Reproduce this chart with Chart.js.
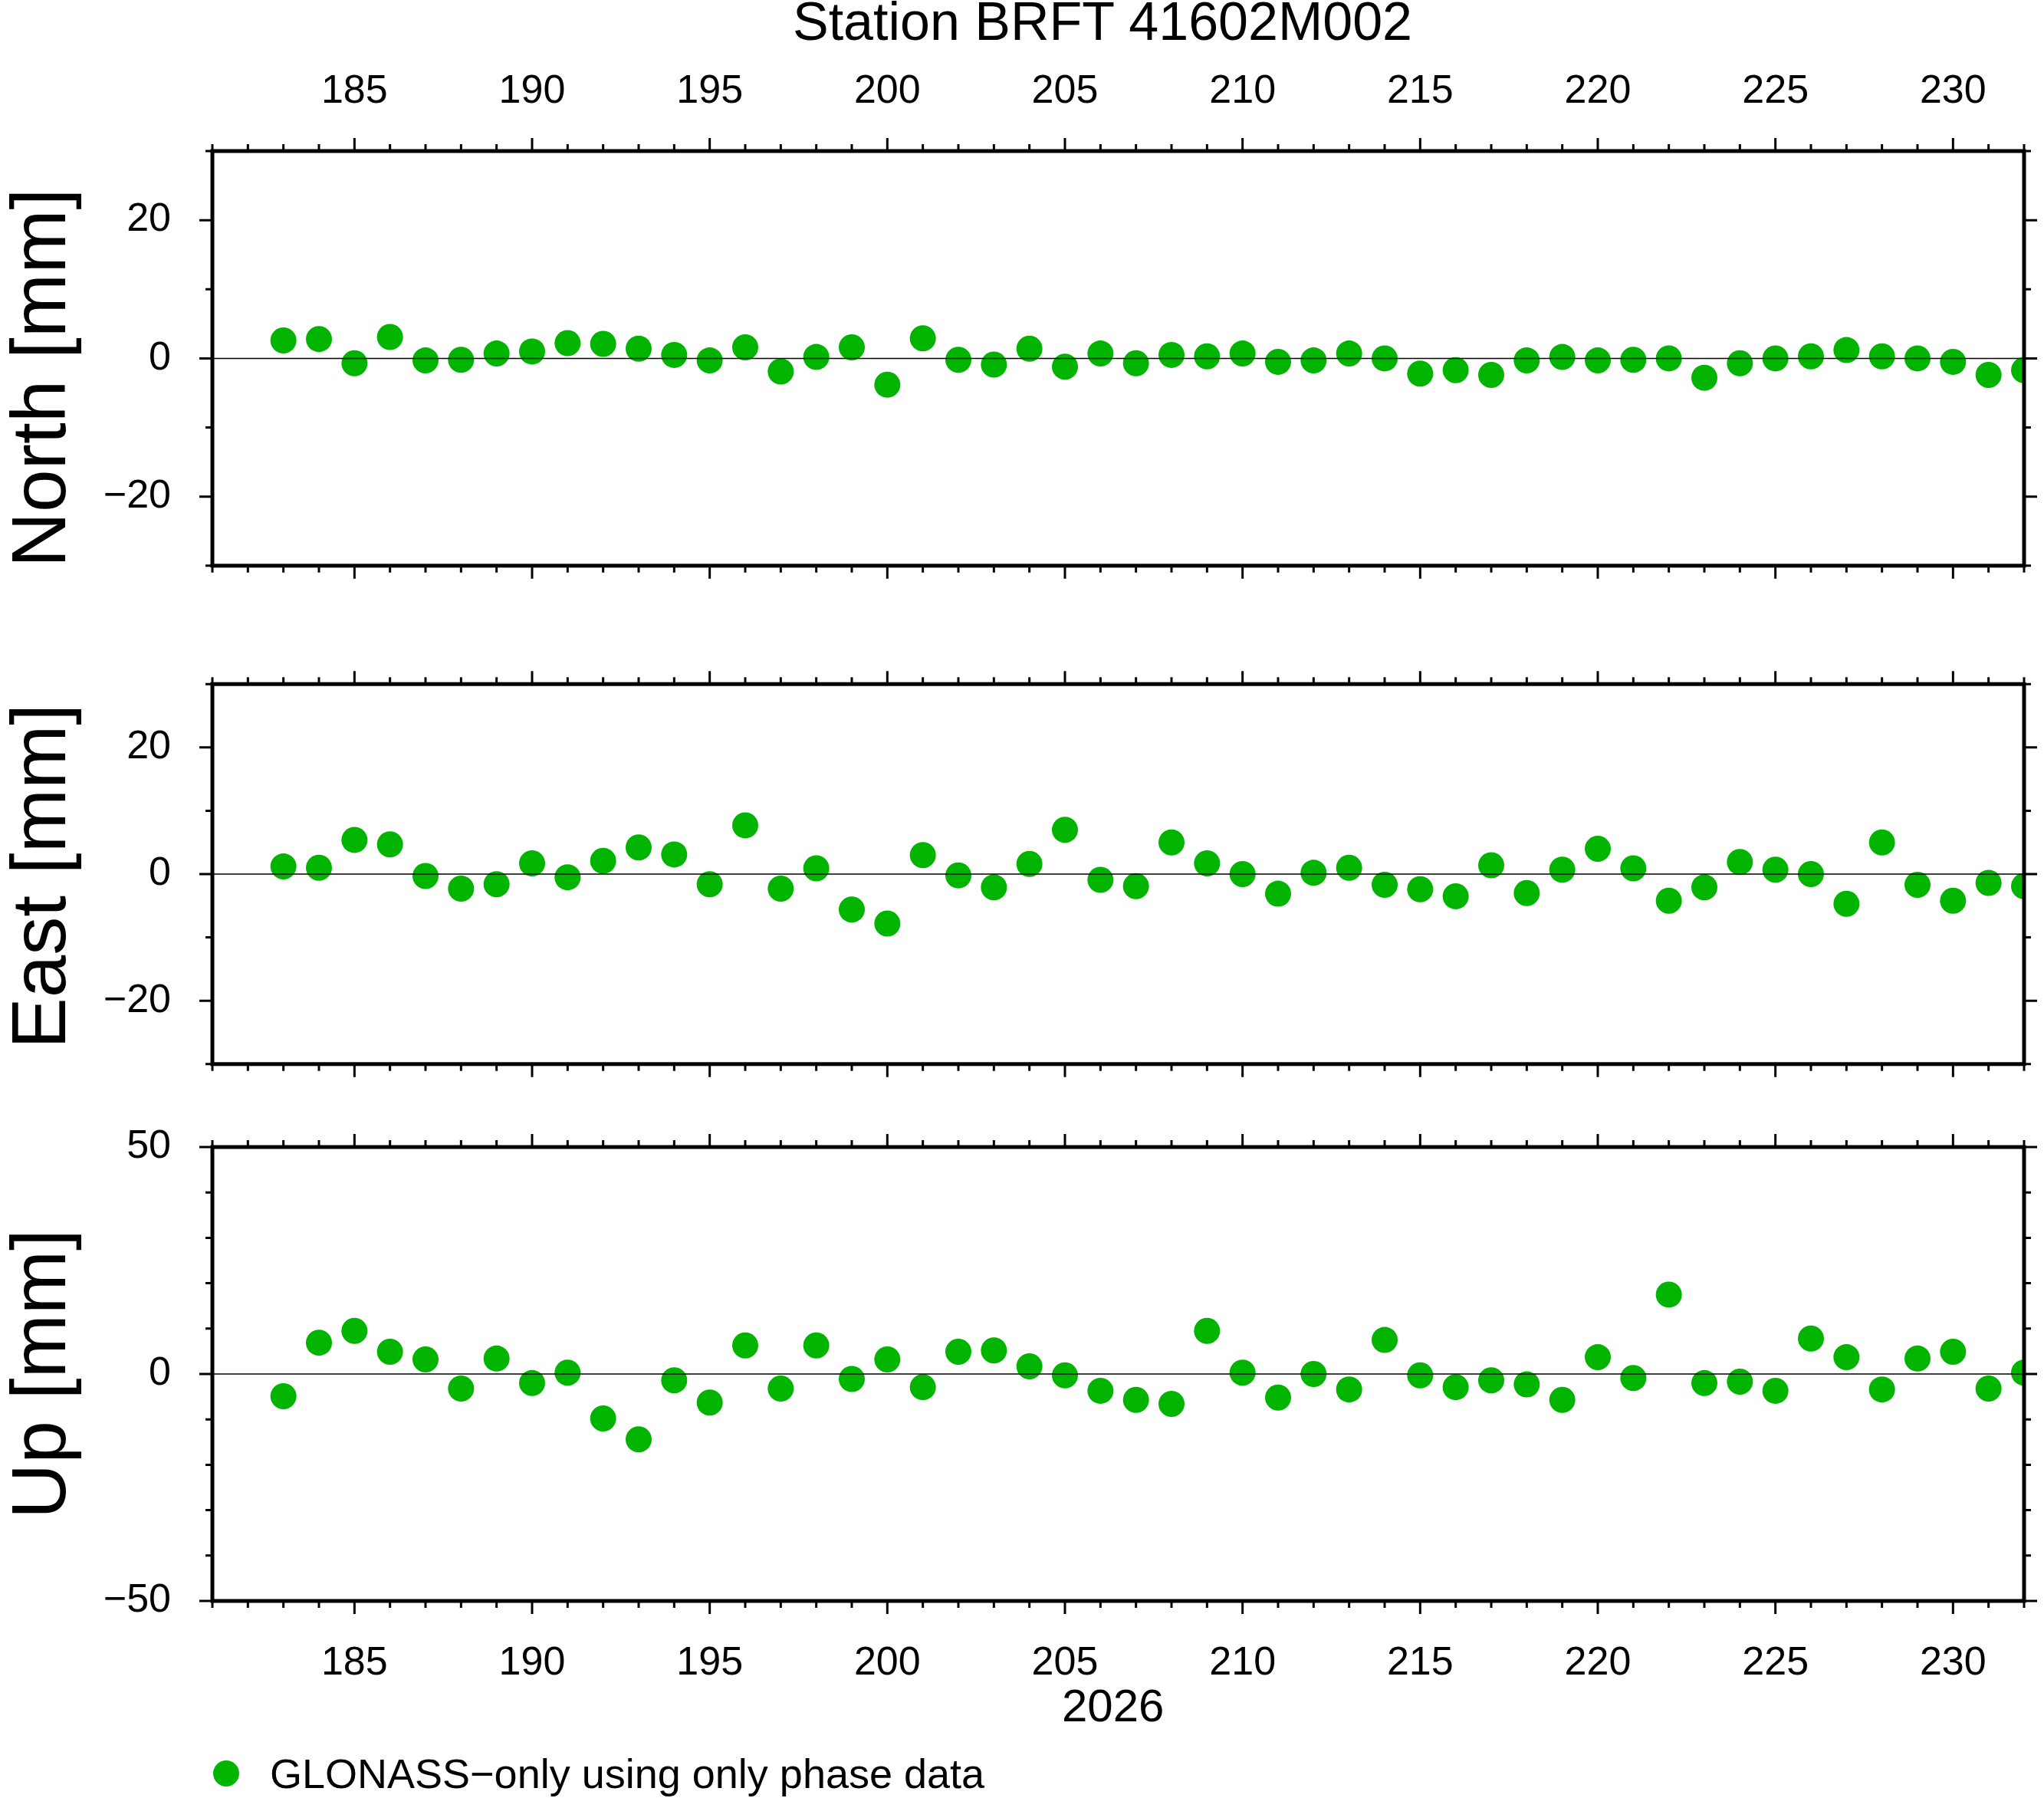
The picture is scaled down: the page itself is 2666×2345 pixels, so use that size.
<!DOCTYPE html>
<html><head><meta charset="utf-8">
<script src="https://cdn.jsdelivr.net/npm/chart.js@4"></script>
<style>
body{margin:0;background:#fff;width:2666px;height:2345px;position:relative;overflow:hidden;font-family:"Liberation Sans",Arial,sans-serif}
canvas{position:absolute;left:0}
.t{position:absolute;color:#000;white-space:nowrap}
.yl{position:absolute;font-size:100px;transform:translate(-50%,-50%) rotate(-90deg);left:50px}
</style></head><body>
<div class="t" style="left:0;width:2876px;text-align:center;top:-12px;font-size:70px">Station BRFT 41602M002</div>
<div class="t yl" style="top:493px">North [mm]</div>
<div class="t yl" style="top:1143px">East [mm]</div>
<div class="t yl" style="top:1792px">Up [mm]</div>
<div class="t" style="left:1385px;top:2190px;font-size:60px">2026</div>
<div class="t" style="left:278px;top:2296px;width:34px;height:34px;border-radius:50%;background:#00b400"></div>
<div class="t" style="left:352px;top:2282px;font-size:54px">GLONASS−only using only phase data</div>
<canvas id="cN"></canvas><canvas id="cE"></canvas><canvas id="cU"></canvas>
<script>
const days = [];
for (let d = 183; d <= 232; d++) days.push(d);
const north = [2.6,2.8,-0.7,3.1,-0.3,-0.2,0.7,1.0,2.2,2.1,1.4,0.5,-0.3,1.6,-1.9,0.2,1.6,-3.8,2.9,-0.2,-0.9,1.4,-1.2,0.7,-0.7,0.5,0.3,0.7,-0.5,-0.3,0.7,0,-2.2,-1.7,-2.4,-0.3,0.2,-0.3,-0.2,0,-2.8,-0.7,0,0.3,1.2,0.3,0,-0.5,-2.4,-1.7];
const east = [1.2,1.0,5.4,4.7,-0.3,-2.3,-1.6,1.7,-0.5,2.1,4.2,3.1,-1.6,7.7,-2.3,0.9,-5.6,-7.8,3.0,-0.2,-2.1,1.6,7.0,-0.9,-1.9,5.0,1.7,0,-3.1,0.2,1.0,-1.7,-2.4,-3.5,1.4,-3.0,0.7,4.0,0.9,-4.2,-2.1,1.9,0.7,0,-4.7,5.0,-1.7,-4.2,-1.4,-1.9];
const up = [-4.9,6.9,9.5,4.9,3.2,-3.2,3.4,-2.0,0.3,-9.8,-14.4,-1.4,-6.3,6.3,-3.2,6.3,-1.1,3.2,-2.9,4.9,5.2,1.7,-0.3,-3.7,-5.7,-6.6,9.5,0.3,-5.2,0,-3.4,7.5,-0.3,-2.9,-1.4,-2.3,-5.7,3.7,-0.9,17.5,-2.0,-1.7,-3.7,7.8,3.7,-3.4,3.4,4.9,-3.2,0.3];
const xTickLabels = [185,190,195,200,205,210,215,220,225,230];
const neTickLabels = [-20,0,20];
const upTickLabels = [-50,0,50];
const xMin = 181, xMax = 232;
const W = 2666, LEFT = 277, RIGHT = 2640;

// frame, outward ticks and zero line
const framePlugin = {
  id: 'frame',
  afterDraw(c, args, o) {
    const ctx = c.ctx, a = c.chartArea, xs = c.scales.x, ys = c.scales.y;
    ctx.save();
    ctx.strokeStyle = '#000';
    ctx.lineWidth = 1.5;
    ctx.beginPath();
    ctx.moveTo(a.left, ys.getPixelForValue(0)); ctx.lineTo(a.right, ys.getPixelForValue(0));
    ctx.stroke();
    ctx.lineWidth = 3;
    ctx.beginPath();
    for (let d = xMin; d <= xMax; d++) {
      const p = xs.getPixelForValue(d), L = d % 5 === 0 ? 17 : 9;
      ctx.moveTo(p, a.top); ctx.lineTo(p, a.top - L);
      ctx.moveTo(p, a.bottom); ctx.lineTo(p, a.bottom + L);
    }
    for (let v = o.min; v <= o.max; v += o.minor) {
      const p = ys.getPixelForValue(v), L = v % o.major === 0 ? 17 : 9;
      ctx.moveTo(a.left, p); ctx.lineTo(a.left - L, p);
      ctx.moveTo(a.right, p); ctx.lineTo(a.right + L, p);
    }
    ctx.stroke();
    ctx.lineWidth = 5;
    ctx.strokeRect(a.left, a.top, a.right - a.left, a.bottom - a.top);
    ctx.restore();
  }
};

function makePanel(id, top, height, areaTop, areaBottom, vals, yMin, yMax, major, yLabels, topLabels, bottomLabels) {
  const cv = document.getElementById(id);
  cv.style.top = top + 'px';
  cv.width = W; cv.height = height;
  cv.style.width = W + 'px'; cv.style.height = height + 'px';
  const tickFont = { family: '"Liberation Sans", Arial, sans-serif', size: 52 };
  const xAxis = (pos, show, h, pad) => ({
    type: 'linear', position: pos, min: xMin, max: xMax,
    grid: { display: false }, border: { display: false },
    ticks: { display: show, font: tickFont, color: '#000', padding: pad, maxRotation: 0, autoSkip: false },
    afterBuildTicks: s => { s.ticks = xTickLabels.map(v => ({ value: v })); },
    afterFit: s => { s.height = h; }
  });
  new Chart(cv, {
    type: 'scatter',
    data: { datasets: [{ data: days.map((d, i) => ({ x: d, y: vals[i] })),
      backgroundColor: '#00b400', borderWidth: 0, pointRadius: 17, pointHoverRadius: 17 }] },
    options: {
      responsive: false, animation: false, events: [],
      layout: { padding: { left: 0, right: W - RIGHT, top: 0, bottom: 0 } },
      plugins: { legend: { display: false }, tooltip: { enabled: false },
        frame: { min: yMin, max: yMax, major: major, minor: 10 } },
      scales: {
        x: xAxis('bottom', bottomLabels, height - (areaBottom - top), 42),
        x2: xAxis('top', topLabels, areaTop - top, 38),
        y: {
          min: yMin, max: yMax,
          grid: { display: false }, border: { display: false },
          ticks: { font: tickFont, color: '#000', padding: 46, autoSkip: false,
            callback: v => String(v).replace('-', '−') },
          afterBuildTicks: s => { s.ticks = yLabels.map(v => ({ value: v })); },
          afterFit: s => { s.width = LEFT; }
        }
      }
    },
    plugins: [framePlugin]
  });
}

makePanel('cN', 0, 815, 197, 789, north, -30, 30, 20, neTickLabels, true, false);
makePanel('cE', 815, 650, 847, 1438, east, -30, 30, 20, neTickLabels, false, false);
makePanel('cU', 1400, 825, 1496, 2088, up, -50, 50, 50, upTickLabels, false, true);
</script>
</body></html>
